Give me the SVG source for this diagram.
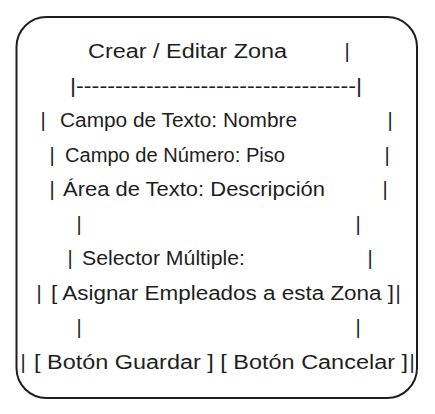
<svg xmlns="http://www.w3.org/2000/svg" width="435" height="414" viewBox="0 0 435 414">
<style>
text{font-family:"Liberation Sans","Noto Sans",sans-serif;font-size:20px;fill:#1e1e1e}
.p{text-anchor:middle}
.box{fill:#ffffff;stroke:#1e1e1e;stroke-width:2}
</style>
<rect width="435" height="414" fill="#ffffff"/>
<g id="form">
<rect class="box" x="16.5" y="17" width="400.5" height="381" rx="30" ry="30"/>
<text x="88" y="58" textLength="199" lengthAdjust="spacingAndGlyphs">Crear / Editar Zona</text>
<text class="p" x="347" y="58">|</text>
<text x="70" y="92.5" textLength="292" lengthAdjust="spacingAndGlyphs">|------------------------------------|</text>
<text class="p" x="43" y="127">|</text>
<text x="60" y="127" textLength="237" lengthAdjust="spacingAndGlyphs">Campo de Texto: Nombre</text>
<text class="p" x="390" y="127">|</text>
<text class="p" x="52" y="161.5">|</text>
<text x="65" y="161.5" textLength="220" lengthAdjust="spacingAndGlyphs">Campo de Número: Piso</text>
<text class="p" x="387" y="161.5">|</text>
<text class="p" x="52" y="196">|</text>
<text x="63" y="196" textLength="262" lengthAdjust="spacingAndGlyphs">Área de Texto: Descripción</text>
<text class="p" x="385" y="196">|</text>
<text class="p" x="79" y="230.5">|</text>
<text class="p" x="358" y="230.5">|</text>
<text class="p" x="70" y="265">|</text>
<text x="82" y="265" textLength="163" lengthAdjust="spacingAndGlyphs">Selector Múltiple:</text>
<text class="p" x="370" y="265">|</text>
<text class="p" x="39" y="299.5">|</text>
<text x="51" y="299.5" textLength="343" lengthAdjust="spacingAndGlyphs">[ Asignar Empleados a esta Zona ]</text>
<text class="p" x="398" y="299.5">|</text>
<text class="p" x="79" y="334">|</text>
<text class="p" x="358" y="334">|</text>
<text class="p" x="23" y="368.5">|</text>
<text x="34" y="368.5" textLength="374" lengthAdjust="spacingAndGlyphs">[ Botón Guardar ] [ Botón Cancelar ]</text>
<text class="p" x="412" y="368.5">|</text>
</g>
</svg>
